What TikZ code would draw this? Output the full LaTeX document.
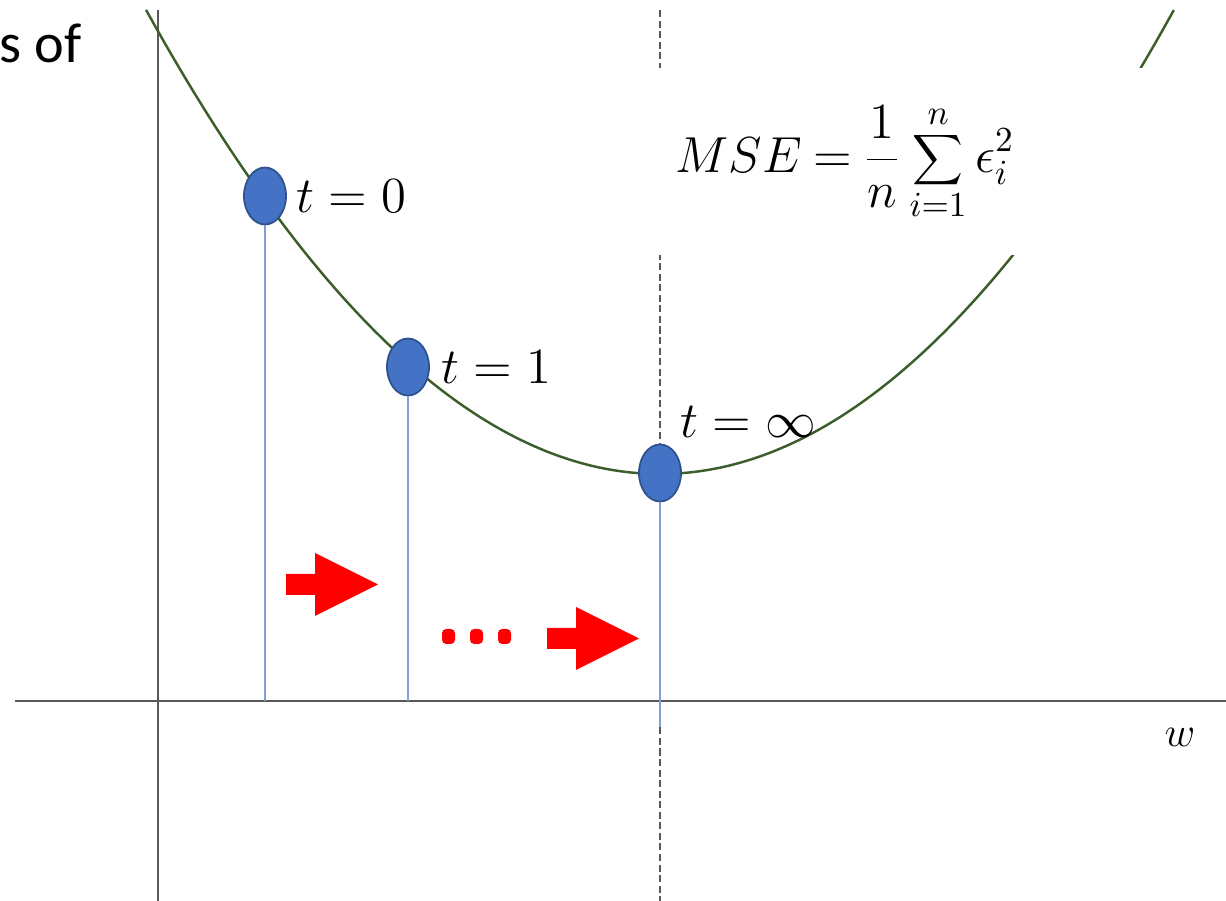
\documentclass[tikz,border=0pt]{standalone}
\usepackage{fontspec}
\newfontfamily\calibri{Carlito}
\usetikzlibrary{shapes.geometric,positioning}
\definecolor{dotblue}{HTML}{4472C4}
\definecolor{dotedge}{HTML}{2F528F}
\definecolor{dropblue}{HTML}{7F9FD8}
\definecolor{lossgreen}{HTML}{3B5E2B}
\definecolor{axisgray}{HTML}{595959}
\tikzset{pt/.style={ellipse,draw=dotedge,fill=dotblue,line width=0.5pt,minimum width=0.42cm,minimum height=0.57cm,inner sep=0pt},
  lbl/.style={inner sep=0pt,font=\fontsize{14}{16}\selectfont},
  drop/.style={draw=dropblue,line width=0.35pt},
  axis/.style={draw=axisgray,line width=0.7pt},
  bigarr/.style={fill=red}}

\begin{document}
\begin{tikzpicture}[x=0.01cm,y=-0.01cm]
\useasboundingbox (0,0) rectangle (1226,901);
% axes and the optimum
\draw[axis] (158,10) -- (158,901);
\draw[axis] (15,701) -- (1226,701);
\draw[axisgray,dash pattern=on 2pt off 1pt,line width=0.65pt] (660,10) -- (660,901);
% loss curve
\draw[lossgreen,line width=0.7pt] plot[domain=-5.139:5.139,samples=120,smooth] ({660+100*\x},{474-17.57*\x*\x});
% white gap behind the formula
\fill[white] (650,68) rectangle (1226,255);
\node[lbl] (mse) at (845,163) {$\thickmuskip=4mu\displaystyle MSE=\frac{1}{n}\sum_{i=1}^{n}\epsilon_i^2$};
\node[anchor=base west,inner sep=0pt,font=\calibri\fontsize{16}{19}\selectfont] (title) at (-1,63) {s of};
\node[font=\fontsize{12}{14}\selectfont] (wlab) at (1180,737) {$w$};
% iterates
\coordinate (w0) at (0,701);
\coordinate (w1) at (0,727);
\node[pt] (d0) at (265,196) {};
\node[pt] (d1) at (408,367) {};
\node[pt] (dinf) at (660,473) {};
\draw[drop] (d0.south) -- (d0.south |- w0);
\draw[drop] (d1.south) -- (d1.south |- w0);
\draw[drop] (dinf.south) -- (dinf.south |- w1);
\node[lbl,right=0.09cm of d0] (l0) {$t=0$};
\node[lbl,right=0.11cm of d1] (l1) {$t=1$};
\node[lbl,anchor=base west] (linf) at (680,438) {$t=\infty$};
% block arrows and dots
\foreach \dx/\dy in {0/0,261/54}
  \fill[bigarr,shift={(\dx,\dy)}] (286,574) -- (315,574) -- (315,553) -- (378,584.5) -- (315,616) -- (315,595) -- (286,595) -- cycle;
\foreach \x in {448.5,476.5,504.5}
  \fill[red,rounded corners=1.2pt] ({\x-6.5},629) rectangle ({\x+6.5},644);
\end{tikzpicture}
\end{document}
